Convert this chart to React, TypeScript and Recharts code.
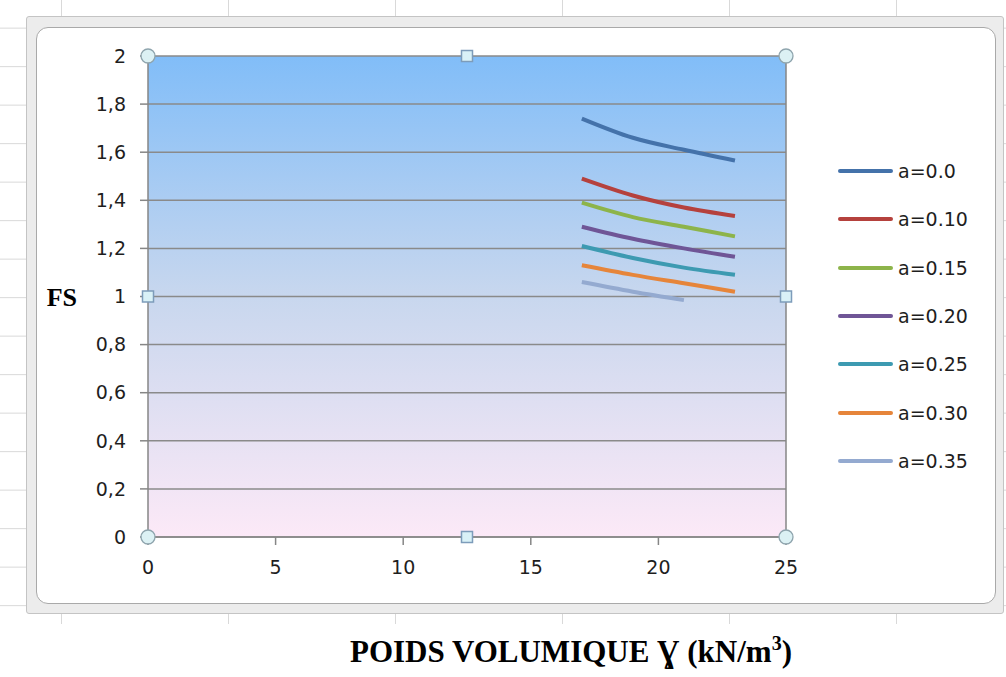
import React from 'react';
import { LineChart, Line, XAxis, YAxis, CartesianGrid, ReferenceLine, ReferenceDot, Legend } from 'recharts';

const xValues = [17, 19, 21, 23];
const a00 = [1.74, 1.66, 1.61, 1.565];
const a10 = [1.49, 1.42, 1.37, 1.335];
const a15 = [1.39, 1.33, 1.29, 1.25];
const a20 = [1.29, 1.24, 1.2, 1.165];
const a25 = [1.21, 1.16, 1.12, 1.09];
const a30 = [1.13, 1.09, 1.055, 1.02];
const a35 = [1.06, 1.02, 0.985];

const xTicks = [0, 5, 10, 15, 20, 25];
const yTicks = [0, 0.2, 0.4, 0.6, 0.8, 1, 1.2, 1.4, 1.6, 1.8, 2];

const seriesDefs = [
  { key: 'a00', name: 'a=0.0', values: a00, color: '#4472aa' },
  { key: 'a10', name: 'a=0.10', values: a10, color: '#b5413d' },
  { key: 'a15', name: 'a=0.15', values: a15, color: '#8db44a' },
  { key: 'a20', name: 'a=0.20', values: a20, color: '#6f5596' },
  { key: 'a25', name: 'a=0.25', values: a25, color: '#3d9ab1' },
  { key: 'a30', name: 'a=0.30', values: a30, color: '#e6853a' },
  { key: 'a35', name: 'a=0.35', values: a35, color: '#94aad0' },
];

const data = xValues.map((x, i) => {
  const row: any = { x };
  seriesDefs.forEach((s) => {
    row[s.key] = s.values[i];
  });
  return row;
});

const handleCorners = [
  { x: 0, y: 0 },
  { x: 0, y: 2 },
  { x: 25, y: 0 },
  { x: 25, y: 2 },
];
const handleSides = [
  { x: 12.5, y: 0 },
  { x: 12.5, y: 2 },
  { x: 0, y: 1 },
  { x: 25, y: 1 },
];

const tickFont = { fontFamily: '"DejaVu Sans", sans-serif', fontSize: 19, fill: '#1e1e1e' };

const CircleHandle = (props: any) => (
  <circle cx={props.cx} cy={props.cy} r={7} fill="#dcf1f4" stroke="#8ea4ad" strokeWidth={1.3} />
);
const SquareHandle = (props: any) => (
  <rect x={props.cx - 5.5} y={props.cy - 5.5} width={11} height={11} fill="#d9f1f7" stroke="#7d9cba" strokeWidth={1.5} />
);

const LegendContent = () => (
  <div style={{ fontFamily: '"DejaVu Sans", sans-serif', fontSize: 19, color: '#1e1e1e' }}>
    {seriesDefs.map((s) => (
      <div key={s.key} style={{ display: 'flex', alignItems: 'center', height: 48.3 }}>
        <div style={{ width: 55, height: 4, background: s.color, borderRadius: 2, marginRight: 5 }} />
        <span>{s.name}</span>
      </div>
    ))}
  </div>
);

const XTitle = (props: any) => {
  const vb = props.viewBox;
  return (
    <text
      x={vb.x + vb.width / 2 + 104}
      y={vb.y + 125}
      textAnchor="middle"
      style={{ fontFamily: '"Liberation Serif", "Times New Roman", serif', fontWeight: 'bold', fontSize: 31, fill: '#000' }}
    >
      POIDS VOLUMIQUE Ɣ (kN/m
      <tspan dy={-12} fontSize={20}>3</tspan>
      <tspan dy={12}>)</tspan>
    </text>
  );
};

export default function App() {
  const gridBg =
    'repeating-linear-gradient(to bottom, transparent 0px, transparent 28px, #d9d9d9 28px, #d9d9d9 29px, transparent 29px, transparent 38.5px)';
  return (
    <div style={{ position: 'absolute', left: 0, top: 0, width: 1006, height: 677, background: '#fff', overflow: 'hidden' }}>
      <div style={{ position: 'absolute', left: 0, top: 0, width: 1006, height: 624, backgroundImage: gridBg, backgroundSize: '1006px 38.5px' }} />
      <div style={{ position: 'absolute', left: 0, top: 0, width: 1006, height: 624, backgroundImage: 'repeating-linear-gradient(to right, transparent 0px, transparent 61px, #d9d9d9 61px, #d9d9d9 62px, transparent 62px, transparent 167px)' }} />
      <div
        style={{
          position: 'absolute',
          left: 26,
          top: 16,
          width: 976,
          height: 596,
          background: '#ececec',
          border: '1px solid #c4c4c4',
          borderRadius: 3,
        }}
      />
      <div
        style={{
          position: 'absolute',
          left: 36,
          top: 27,
          width: 958,
          height: 575,
          background: '#fff',
          border: '1.5px solid #a9a9a9',
          borderRadius: 12,
        }}
      />
      <div style={{ position: 'absolute', left: 0, top: 0 }}>
        <LineChart width={1006} height={677} data={data} margin={{ top: 56, right: 60, bottom: 100, left: 88 }}>
          <defs>
            <linearGradient id="plotBg" x1="0" y1="0" x2="0" y2="1">
              <stop offset="0%" stopColor="#81bdf8" />
              <stop offset="50%" stopColor="#c8d7ee" />
              <stop offset="100%" stopColor="#fce9f7" />
            </linearGradient>
          </defs>
          <CartesianGrid vertical={false} stroke="#8a8a8a" strokeWidth={1.5} fill="url(#plotBg)" fillOpacity={1} />
          <XAxis
            dataKey="x"
            type="number"
            domain={[0, 25]}
            ticks={xTicks}
            interval={0}
            height={40}
            tickSize={8}
            tickMargin={16}
            stroke="#868686"
            strokeWidth={1.5}
            tick={tickFont}
            tickLine={{ stroke: '#868686' }}
            label={<XTitle />}
          />
          <YAxis
            type="number"
            domain={[0, 2]}
            ticks={yTicks}
            interval={0}
            width={60}
            tickSize={8}
            tickMargin={14}
            stroke="#868686"
            strokeWidth={1.5}
            tick={tickFont}
            tickLine={{ stroke: '#868686' }}
            tickFormatter={(v: number) => String(Math.round(v * 10) / 10).replace('.', ',')}
            label={{
              value: 'FS',
              position: 'left',
              offset: 11,
              style: { fontFamily: '"Liberation Serif", "Times New Roman", serif', fontWeight: 'bold', fontSize: 26, fill: '#000', textAnchor: 'end' },
            }}
          />
          <ReferenceLine x={25} stroke="#868686" strokeWidth={1.5} />
          {seriesDefs.map((s) => (
            <Line
              key={s.key}
              type="monotone"
              dataKey={s.key}
              name={s.name}
              stroke={s.color}
              strokeWidth={4}
              dot={false}
              activeDot={false}
              isAnimationActive={false}
            />
          ))}
          {handleCorners.map((h, i) => (
            <ReferenceDot key={'c' + i} x={h.x} y={h.y} ifOverflow="visible" shape={<CircleHandle />} />
          ))}
          {handleSides.map((h, i) => (
            <ReferenceDot key={'s' + i} x={h.x} y={h.y} ifOverflow="visible" shape={<SquareHandle />} />
          ))}
          <Legend
            content={<LegendContent />}
            layout="vertical"
            verticalAlign="top"
            align="right"
            wrapperStyle={{ position: 'absolute', left: 838, top: 147, width: 160 }}
          />
        </LineChart>
      </div>
    </div>
  );
}
